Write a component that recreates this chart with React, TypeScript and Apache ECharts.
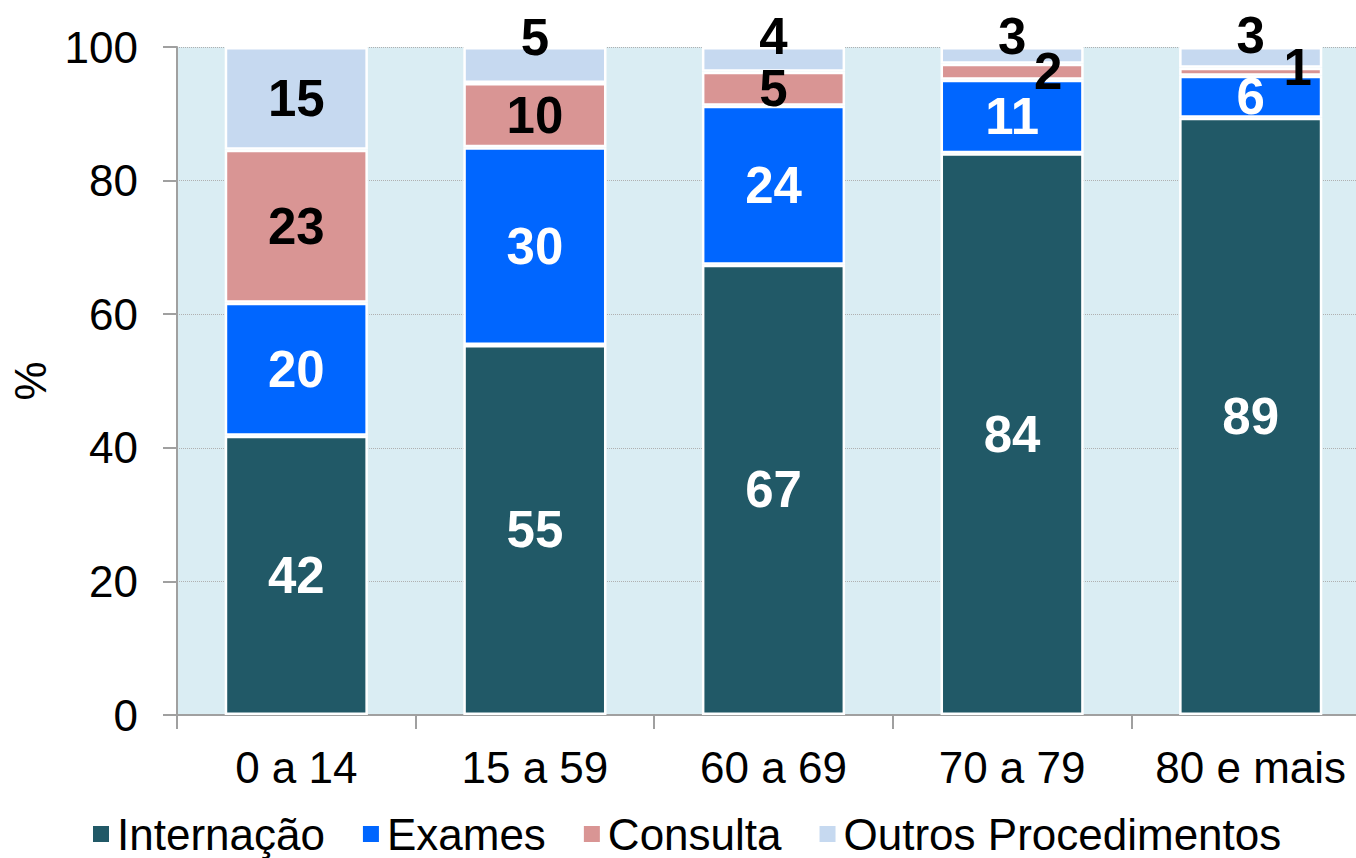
import React, { useEffect, useRef } from "react";
import * as echarts from "echarts";

const categories = ["0 a 14", "15 a 59", "60 a 69", "70 a 79", "80 e mais"];
const internacao = [41.8, 55.4, 67.4, 84.1, 89.4];
const exames = [19.9, 29.6, 23.8, 11.0, 6.3];
const consulta = [22.9, 9.6, 5.1, 2.4, 1.2];
const outros = [15.4, 5.4, 3.7, 2.5, 3.1];
const yTicks = [0, 20, 40, 60, 80, 100];

// manual label offsets (as in the original chart)
const outrosOffsets: (number[] | null)[] = [null, [0, -28], [0, -23], [0, -19], [0, -22]];
const consultaOffsets: (number[] | null)[] = [null, null, null, [36, 0], [47, -4]];

const FONT = "'Liberation Sans', Arial, sans-serif";

export default function App() {
  const ref = useRef<HTMLDivElement>(null);
  useEffect(() => {
    document.body.style.margin = "0";
    document.body.style.overflow = "hidden";
    const chart = echarts.init(ref.current!, null, { renderer: "svg" });
    const labelBase = (color: string) => ({
      show: true,
      position: "inside",
      color,
      fontFamily: FONT,
      fontWeight: "bold",
      fontSize: 51,
      formatter: (p: any) => String(Math.round(p.value)),
    });
    const mk = (name: string, data: number[], color: string, labelColor: string, offsets?: (number[] | null)[]) => ({
      name,
      type: "bar",
      stack: "total",
      barCategoryGap: "40%",
      itemStyle: { color, borderColor: "#ffffff", borderWidth: 2.5 },
      label: labelBase(labelColor),
      data: data.map((v, i) =>
        offsets && offsets[i] ? { value: v, label: { offset: offsets[i] } } : v
      ),
    });
    chart.setOption({
      animation: false,
      textStyle: { fontFamily: FONT },
      grid: {
        left: 175,
        top: 47,
        right: 0,
        bottom: 143,
        show: true,
        backgroundColor: "#daedf3",
        borderWidth: 0,
      },
      legend: {
        bottom: -3,
        left: 86,
        itemWidth: 18,
        itemHeight: 18,
        itemGap: 36,
        icon: "rect",
        textStyle: { fontSize: 44, color: "#000", fontFamily: FONT, padding: [0, 0, 0, 2] },
        data: ["Internação", "Exames", "Consulta", "Outros Procedimentos"],
      },
      xAxis: {
        type: "category",
        data: categories,
        axisLine: { lineStyle: { color: "#a0a0a0", width: 2 } },
        axisTick: { show: true, interval: 0, length: 14, lineStyle: { color: "#a0a0a0", width: 2 } },
        axisLabel: { interval: 0, fontSize: 44, color: "#000", margin: 30, fontFamily: FONT },
      },
      yAxis: {
        type: "value",
        min: yTicks[0],
        max: yTicks[yTicks.length - 1],
        interval: 20,
        name: "%",
        nameLocation: "middle",
        nameGap: 125,
        nameRotate: 90,
        nameTextStyle: { fontSize: 44, color: "#000", fontFamily: FONT },
        axisLine: { show: true, lineStyle: { color: "#a0a0a0", width: 2 } },
        axisTick: { show: true, length: 14, lineStyle: { color: "#a0a0a0", width: 2 } },
        axisLabel: { fontSize: 44, color: "#000", margin: 39, fontFamily: FONT },
        splitLine: { show: true, lineStyle: { color: "#b0b0b0", type: "dotted", width: 1 } },
      },
      series: [
        mk("Internação", internacao, "#215967", "#ffffff"),
        mk("Exames", exames, "#0066ff", "#ffffff"),
        mk("Consulta", consulta, "#d99594", "#000000", consultaOffsets),
        mk("Outros Procedimentos", outros, "#c6d9f0", "#000000", outrosOffsets),
      ],
    });
    return () => chart.dispose();
  }, []);
  return <div ref={ref} style={{ width: 1370, height: 858 }} />;
}
